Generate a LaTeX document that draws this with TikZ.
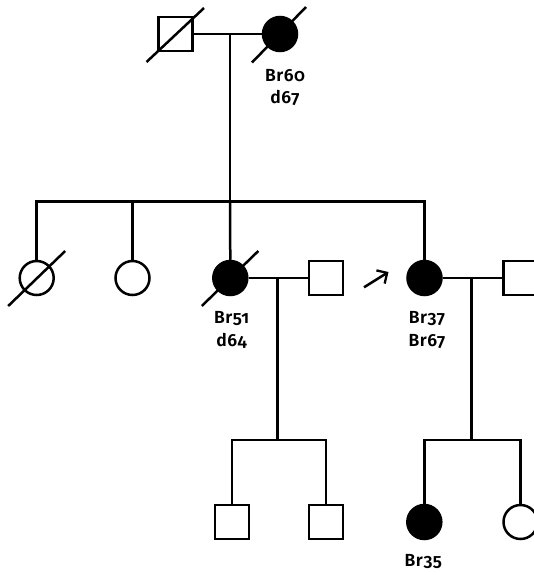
\documentclass[tikz,border=0pt]{standalone}
\usepackage{fontspec}
\setmainfont{Fira Sans}[Numbers=OldStyle,BoldFont={Fira Sans SemiBold},BoldFeatures={LetterSpace=3}]
\usetikzlibrary{arrows.meta,calc}
\begin{document}
\begin{tikzpicture}[x=1pt,y=-1pt,line width=2.5pt,
  female/.style={circle,draw,minimum size=34pt,inner sep=0pt},
  affected/.style={female,fill=black},
  male/.style={rectangle,draw,minimum size=34pt,inner sep=0pt},
  lbl/.style={font=\bfseries\fontsize{17.5}{22.5}\selectfont,anchor=base,inner sep=0pt},
  deceased/.style={line width=2.5pt}]
\useasboundingbox (0,0) rectangle (534,573);
\clip (0,0) rectangle (534,573);

% generation I
\node[male] (g1m) at (175.5,34) {};
\node[affected] (g1f) at (280,34) {};
\draw[deceased] ($(g1m)+(-29,28)$) -- ($(g1m)+(28.5,-26)$);
\draw[deceased] ($(g1f)+(-28,28.5)$) -- ($(g1f)+(26,-27)$);
\draw (g1m) -- (g1f);
\coordinate (g1mid) at (230,34);
\node[lbl] (l1a) at (285,81) {Br60};
\node[lbl] (l1b) at (285,103.3) {d67};

% generation II
\node[female] (c1) at (36.7,278) {};
\node[female] (c2) at (132.5,278) {};
\node[affected] (c3) at (230.3,278) {};
\node[male] (s3) at (326,278) {};
\node[affected] (c4) at (424.5,278) {};
\node[male] (s4) at (520.5,278) {};
\draw[deceased] ($(c1)+(-28.5,28)$) -- ($(c1)+(28.5,-27)$);
\draw[deceased] ($(c3)+(-28.5,28)$) -- ($(c3)+(28,-27)$);
\coordinate (sib2) at (230,201.7);
\draw (g1mid) -- (sib2);
\draw (c1.north) -- (c1.north |- sib2) -- (c4.north |- sib2) -- (c4.north);
\draw (c2.north) -- (c2.north |- sib2);
\draw (sib2) -- (c3.north);
\draw (c3) -- (s3);
\draw (c4) -- (s4);
\coordinate (m3) at (277.3,278);
\coordinate (m4) at (471.3,278);
\node[lbl] (l3a) at (231.6,323.3) {Br51};
\node[lbl] (l3b) at (231.6,346) {d64};
\node[lbl] (l4a) at (427,323.3) {Br37};
\node[lbl] (l4b) at (427,346) {Br67};

% proband arrow
\coordinate (pa) at (364,287.3);
\coordinate (pb) at (388.5,272);
\draw[-{Straight Barb[angle=90:11pt,line width=2.3pt]}] (pa) -- (pb);

% generation III
\node[male] (d1) at (232,522) {};
\node[male] (d2) at (326,522) {};
\node[affected] (d3) at (424.3,522) {};
\node[female] (d4) at (520.5,522) {};
\coordinate (sib3a) at (277.3,440);
\coordinate (sib3b) at (471.3,440);
\draw (m3) -- (sib3a);
\draw (d1.north) -- (d1.north |- sib3a) -- (d2.north |- sib3a) -- (d2.north);
\draw (m4) -- (sib3b);
\draw (d3.north) -- (d3.north |- sib3b) -- (d4.north |- sib3b) -- (d4.north);
\node[lbl] (l5) at (423.3,566) {Br35};
\end{tikzpicture}
\end{document}
